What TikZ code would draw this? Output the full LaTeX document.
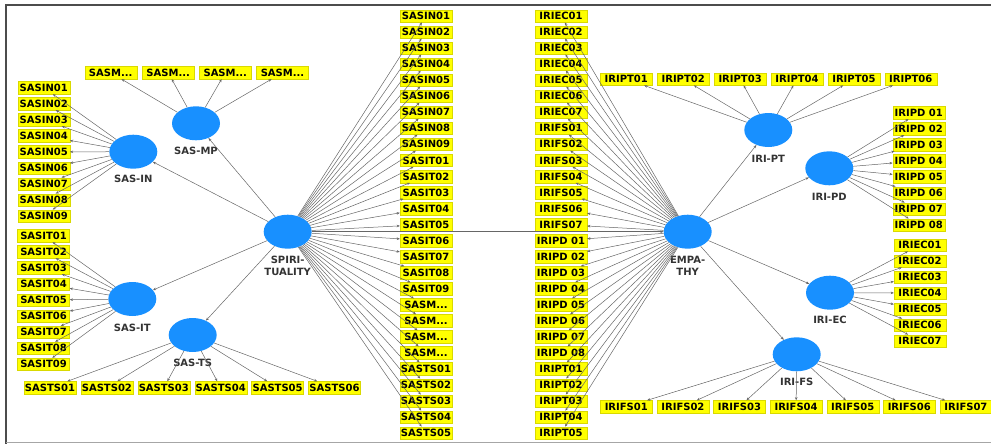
\documentclass[tikz,border=0pt]{standalone}
\usepackage{fontspec}
\newfontfamily\dvs{DejaVu Sans}
\usetikzlibrary{shapes.geometric,arrows.meta}
\definecolor{latblue}{RGB}{24,144,255}
\definecolor{boxy}{RGB}{255,255,0}
\begin{document}
\begin{tikzpicture}[x=1pt,y=-1pt,
  lat/.style={ellipse,fill=latblue,minimum width=48pt,minimum height=34pt,inner sep=0pt},
  ind/.style={rectangle,fill=boxy,draw=boxy!85!black,line width=0.3pt,minimum width=52pt,minimum height=12.5pt,inner sep=0pt,font=\dvs\bfseries\fontsize{10}{10}\selectfont},
  lbl/.style={font=\dvs\bfseries\fontsize{10}{11.7}\selectfont,text=black!80,align=center,inner sep=0pt},
  arr/.style={draw=black!60,line width=0.5pt,-{Stealth[length=3.2pt,width=2.6pt]}}]
\useasboundingbox (0,0) rectangle (991,444);
% frame
\draw[black!70,line width=2pt] (6,444) -- (6,5) -- (991,5);
\draw[black!35,line width=1pt] (6,442.5) -- (991,442.5);

% latent variables
\node[lat] (spi) at (287.7,231.7) {};
\node[lat] (emp) at (687.7,231.7) {};
\node[lat] (sasmp) at (196,123.3) {};
\node[lat] (sasin) at (133.3,151.7) {};
\node[lat] (sasit) at (132.3,299) {};
\node[lat] (sasts) at (192.7,335) {};
\node[lat] (iript) at (768.3,130) {};
\node[lat] (iripd) at (829.3,168.3) {};
\node[lat] (iriec) at (830,292.7) {};
\node[lat] (irifs) at (796.7,354.3) {};

% latent labels
\node[lbl,anchor=north] (lspi) at (287.7,256.3) {SPIRI-\\TUALITY};
\node[lbl,anchor=north] (lemp) at (687.7,256.3) {EMPA-\\THY};
\node[lbl] (lsasmp) at (196,151) {SAS-MP};
\node[lbl] (lsasin) at (133.3,179.3) {SAS-IN};
\node[lbl] (lsasit) at (132.3,327.7) {SAS-IT};
\node[lbl] (lsasts) at (192.7,363.3) {SAS-TS};
\node[lbl] (liript) at (768.3,159) {IRI-PT};
\node[lbl] (liripd) at (829.3,196.7) {IRI-PD};
\node[lbl] (liriec) at (830,320) {IRI-EC};
\node[lbl] (lirifs) at (796.7,382.3) {IRI-FS};

% middle column (SAS items)
\foreach \k [evaluate=\k as \i using int(\k-1)] in {1,...,9}
  \node[ind] (m\i) at (426,{16+\i*16.04}) {SASIN0\k};
\foreach \k [evaluate=\k as \i using int(\k+8)] in {1,...,9}
  \node[ind] (m\i) at (426,{16+\i*16.04}) {SASIT0\k};
\foreach \i in {18,19,20,21}
  \node[ind] (m\i) at (426,{16+\i*16.04}) {SASM...};
\foreach \k [evaluate=\k as \i using int(\k+21)] in {1,...,5}
  \node[ind] (m\i) at (426,{16+\i*16.04}) {SASTS0\k};

% middle column (IRI items)
\foreach \k [evaluate=\k as \i using int(\k-1)] in {1,...,7}
  \node[ind] (r\i) at (561,{16+\i*16.04}) {IRIEC0\k};
\foreach \k [evaluate=\k as \i using int(\k+6)] in {1,...,7}
  \node[ind] (r\i) at (561,{16+\i*16.04}) {IRIFS0\k};
\foreach \k [evaluate=\k as \i using int(\k+13)] in {1,...,8}
  \node[ind] (r\i) at (561,{16+\i*16.04}) {IRIPD 0\k};
\foreach \k [evaluate=\k as \i using int(\k+21)] in {1,...,5}
  \node[ind] (r\i) at (561,{16+\i*16.04}) {IRIPT0\k};

% SAS-IN items
\foreach \k [evaluate=\k as \i using int(\k-1)] in {1,...,9}
  \node[ind] (in\k) at (43.8,{87.7+\i*16.04}) {SASIN0\k};
% SAS-IT items
\foreach \k [evaluate=\k as \i using int(\k-1)] in {1,...,9}
  \node[ind] (it\k) at (43.6,{235.7+\i*16.07}) {SASIT0\k};
% SAS-MP items
\foreach \k/\x in {1/110.7,2/168.2,3/225.3,4/282.5}
  \node[ind] (mp\k) at (\x,72.7) {SASM...};
% SAS-TS items
\foreach \k [evaluate=\k as \i using int(\k-1)] in {1,...,6}
  \node[ind] (ts\k) at ({50+\i*56.9},387.7) {SASTS0\k};
% IRI-PT items
\foreach \k [evaluate=\k as \i using int(\k-1)] in {1,...,6}
  \node[ind] (pt\k) at ({626.3+\i*56.9},79) {IRIPT0\k};
% IRI-PD items
\foreach \k [evaluate=\k as \i using int(\k-1)] in {1,...,8}
  \node[ind] (pd\k) at (918.8,{112.7+\i*16.04}) {IRIPD 0\k};
% IRI-EC items
\foreach \k [evaluate=\k as \i using int(\k-1)] in {1,...,7}
  \node[ind] (ec\k) at (920,{245+\i*16}) {IRIEC0\k};
% IRI-FS items
\foreach \k [evaluate=\k as \i using int(\k-1)] in {1,...,7}
  \node[ind] (fs\k) at ({626.3+\i*56.6},406.7) {IRIFS0\k};

% connectors
\foreach \i in {0,...,26} \draw[arr] (spi) -- (m\i);
\foreach \i in {0,...,26} \draw[arr] (emp) -- (r\i);
\draw[arr] (spi) -- (emp);
\draw[arr] (spi) -- (sasmp);
\draw[arr] (spi) -- (sasin);
\draw[arr] (spi) -- (sasit);
\draw[arr] (spi) -- (sasts);
\draw[arr] (emp) -- (iript);
\draw[arr] (emp) -- (iripd);
\draw[arr] (emp) -- (iriec);
\draw[arr] (emp) -- (irifs);
\foreach \k in {1,...,9} \draw[arr] (sasin) -- (in\k);
\foreach \k in {1,...,9} \draw[arr] (sasit) -- (it\k);
\foreach \k in {1,...,4} \draw[arr] (sasmp) -- (mp\k);
\foreach \k in {1,...,6} \draw[arr] (sasts) -- (ts\k);
\foreach \k in {1,...,6} \draw[arr] (iript) -- (pt\k);
\foreach \k in {1,...,8} \draw[arr] (iripd) -- (pd\k);
\foreach \k in {1,...,7} \draw[arr] (iriec) -- (ec\k);
\foreach \k in {1,...,7} \draw[arr] (irifs) -- (fs\k);
\end{tikzpicture}
\end{document}
